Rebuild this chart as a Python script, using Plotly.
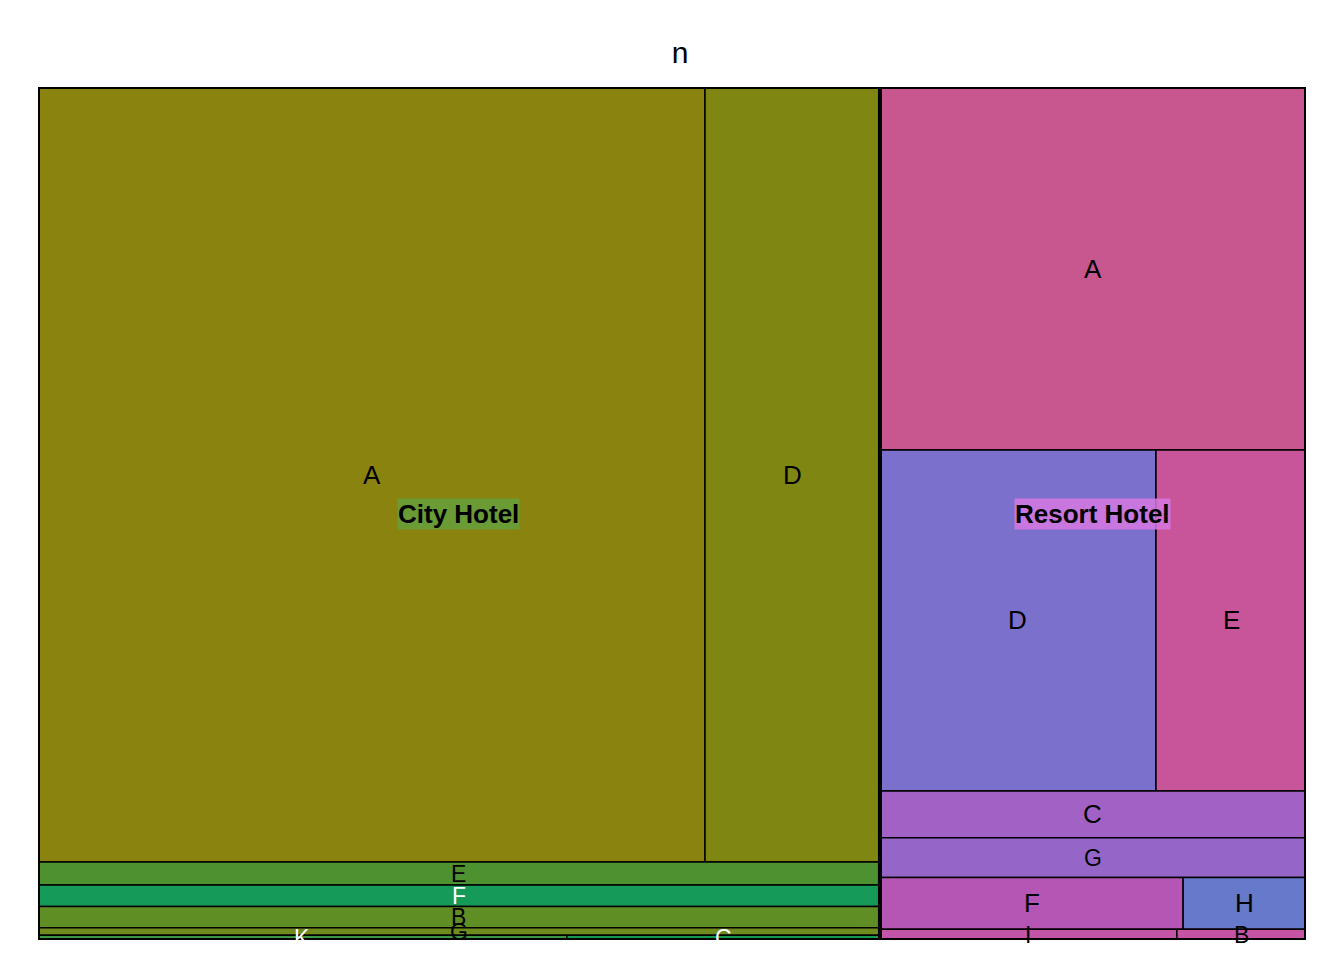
import plotly.graph_objects as go

# data (relative sizes)
hotels = ["City Hotel", "Resort Hotel"]
city_rooms = ["A", "D", "E", "F", "B", "G", "K", "C"]
city_n = [51690, 13560, 1942, 1802, 1794, 632, 250, 148]
city_colors = ["#8B8310", "#7F8712", "#4E9131", "#159A5A", "#5F8E25", "#6F8A1D", "#3C9941", "#179B50"]
resort_rooms = ["A", "D", "E", "C", "G", "F", "H", "I", "B"]
resort_n = [15464, 9412, 5115, 1997, 1684, 1569, 636, 322, 140]
resort_colors = ["#C8568F", "#7B71CD", "#C8559A", "#A262C5", "#9566C8", "#B556B5", "#6679CA", "#C355A8", "#C554A5"]
white_text = {("City Hotel", "F"), ("City Hotel", "K"), ("City Hotel", "C")}

# row grouping of the tiling (indices into the lists above; nested list = stacked cell)
top_plan = [[0], [1]]
city_plan = [[0, 1], [2, 3, 4, 5, [6, 7]]]
resort_plan = [[0], [1, 2], [3, 4, [5, 6], [7, 8]]]

W, H = 1268.0, 853.0


def tile(vals, plan, x, y, w, h):
    k = w * h / sum(vals)
    areas = [v * k for v in vals]
    rects = [None] * len(vals)
    for row in plan:
        items = [it if isinstance(it, list) else [it] for it in row]
        s = sum(areas[i] for it in items for i in it)
        if w >= h:
            cw = s / h
            yy = y
            for it in items:
                ih = sum(areas[i] for i in it) / cw
                xx = x
                for i in it:
                    sw = areas[i] / ih
                    rects[i] = (xx, yy, sw, ih)
                    xx += sw
                yy += ih
            x += cw
            w -= cw
        else:
            rh = s / w
            xx = x
            for it in items:
                iw = sum(areas[i] for i in it) / rh
                yy = y
                for i in it:
                    sh = areas[i] / iw
                    rects[i] = (xx, yy, iw, sh)
                    yy += sh
                xx += iw
            y += rh
            h -= rh
    return rects


groups = [(city_rooms, city_n, city_colors, city_plan), (resort_rooms, resort_n, resort_colors, resort_plan)]
totals = [sum(g[1]) for g in groups]
top = tile(totals, top_plan, 0, 0, W, H)

fig = go.Figure()
for hotel, (rooms, ns, cols, plan), (gx, gy, gw, gh) in zip(hotels, groups, top):
    rects = tile(ns, plan, gx, gy, gw, gh)
    for room, n, col, (x, y, w, h) in zip(rooms, ns, cols, rects):
        fig.add_trace(go.Scatter(
            x=[x, x + w, x + w, x, x], y=[y, y, y + h, y + h, y],
            fill="toself", fillcolor=col, mode="lines",
            line=dict(color="black", width=1.5),
            name=f"{hotel} {room}", hoverinfo="text", text=f"{hotel}<br>{room}: {n}",
            showlegend=False))
        size = 26 if min(w, h) > 40 else 23
        fig.add_annotation(x=x + w / 2, y=y + h / 2, text=room, showarrow=False,
                           font=dict(size=size, color="white" if (hotel, room) in white_text else "black"))
    fig.add_trace(go.Scatter(
        x=[gx, gx + gw, gx + gw, gx, gx], y=[gy, gy, gy + gh, gy + gh, gy],
        mode="lines", line=dict(color="black", width=4), hoverinfo="skip", showlegend=False))
    bg = "rgba(100,160,60,0.85)" if hotel == "City Hotel" else "rgba(215,120,225,0.85)"
    fig.add_annotation(x=gx + gw / 2, y=gy + gh / 2, text=f"<b>{hotel}</b>", showarrow=False,
                       font=dict(size=26, color="black"), bgcolor=bg, borderpad=0)

fig.update_layout(
    width=1344, height=960,
    margin=dict(l=30, r=46, t=79, b=28),
    plot_bgcolor="white", paper_bgcolor="white",
    font=dict(family="Liberation Sans, Arial, sans-serif"),
    title=dict(text="n", x=0.5, xanchor="center", y=0.965, font=dict(size=30, color="black")),
    xaxis=dict(range=[0, W], visible=False, fixedrange=True),
    yaxis=dict(range=[H, 0], visible=False, fixedrange=True),
)
fig.write_html("out.html")
